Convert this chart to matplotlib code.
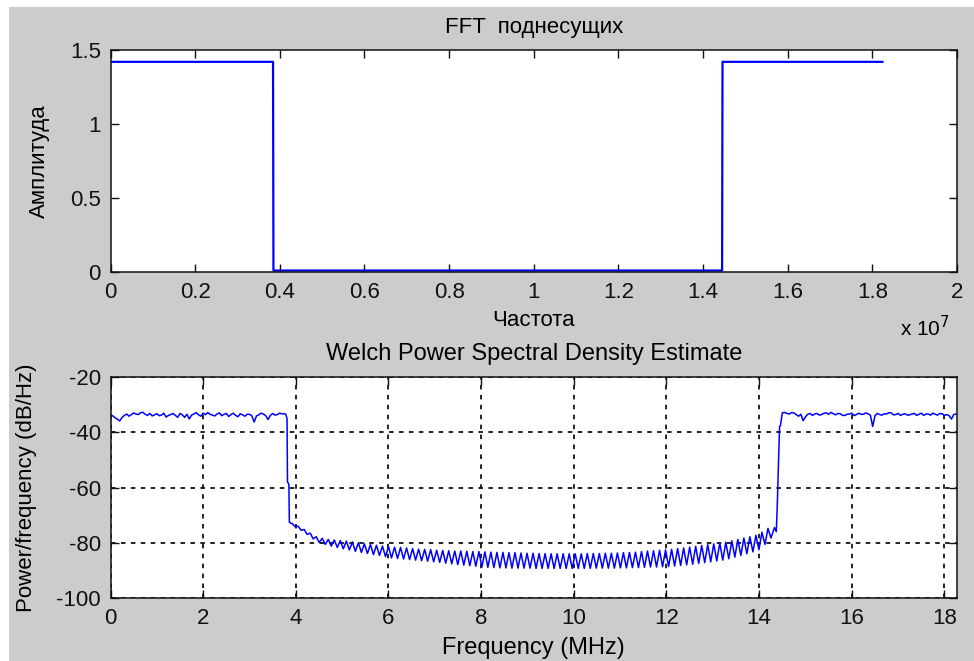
import numpy as np
import matplotlib
matplotlib.use('Agg')
import matplotlib.pyplot as plt
from matplotlib.patches import Rectangle

plt.rcParams['font.family'] = ['Liberation Sans', 'DejaVu Sans']
plt.rcParams['axes.unicode_minus'] = False

# --- data: top plot (FFT of subcarriers), frequency in Hz ---
fft_freq = [0, 3.84e6, 3.85e6, 14.45e6, 14.46e6, 18.24e6]
fft_amp = [1.42, 1.42, 0.01, 0.01, 1.42, 1.42]
fft_xticks = [0, 0.2e7, 0.4e7, 0.6e7, 0.8e7, 1.0e7, 1.2e7, 1.4e7, 1.6e7, 1.8e7, 2.0e7]
fft_xticklabels = ['0', '0.2', '0.4', '0.6', '0.8', '1', '1.2', '1.4', '1.6', '1.8', '2']
fft_yticks = [0, 0.5, 1, 1.5]
fft_yticklabels = ['0', '0.5', '1', '1.5']

# --- data: bottom plot (Welch PSD), frequency in MHz, values in dB/Hz ---
# left occupied band, 0 .. 3.7 MHz every 0.05 MHz
psd_left = [-33.5, -34.1, -34.8, -35.3, -35.9, -34.6, -33.9, -33.4, -34.2, -33.6,
            -33.0, -33.4, -33.6, -32.9, -32.8, -33.5, -33.9, -33.2, -34.1, -33.7,
            -33.3, -34.0, -33.8, -33.1, -34.5, -33.9, -33.6, -33.2, -33.9, -34.6,
            -33.2, -33.7, -34.6, -33.5, -35.2, -33.8, -33.4, -32.9, -33.7, -34.2,
            -33.1, -33.6, -32.9, -33.5, -33.8, -34.1, -33.4, -33.0, -34.0, -33.5,
            -33.2, -34.3, -33.6, -33.1, -33.9, -34.4, -33.3, -33.7, -34.2, -33.5,
            -33.5, -34.0, -36.3, -34.1, -33.7, -33.1, -33.4, -34.0, -35.4, -33.9,
            -33.2, -33.8, -33.6, -33.1, -33.3]
# falling edge
drop_freq = [3.78, 3.81, 3.82, 3.85, 3.86, 3.90]
drop_vals = [-33.4, -35.0, -58.0, -58.8, -72.6, -73.0]
# null band ripple: peaks start at 3.92 MHz, spaced 0.13 MHz, troughs halfway between
ripple_peaks = [-73.0, -74.0, -75.2, -76.5, -77.8, -78.4, -78.8, -79.0, -79.2, -79.4,
                -79.7, -80.0, -80.4, -80.6, -80.9, -81.2, -81.4, -81.6, -81.7, -81.9,
                -82.1, -82.3, -82.4, -82.5, -82.7, -82.8, -82.9, -83.0, -83.0, -83.1,
                -83.2, -83.2, -83.3, -83.4, -83.5, -83.5, -83.6, -83.6, -83.7, -83.8,
                -83.8, -83.9, -83.9, -84.0, -84.0, -84.0, -84.0, -84.0, -84.0, -83.9,
                -83.9, -83.9, -83.8, -83.8, -83.7, -83.6, -83.5, -83.4, -83.2, -83.0,
                -82.9, -82.7, -82.6, -82.4, -82.1, -81.9, -81.6, -81.3, -81.0, -80.7,
                -80.4, -80.1, -79.8, -79.3, -78.8, -78.3, -77.8, -77.3, -76.2, -74.8]
ripple_troughs = [-74.2, -75.5, -77.0, -78.6, -79.9, -80.6, -81.2, -81.7, -82.2, -82.6,
                  -83.1, -83.5, -83.9, -84.3, -84.6, -85.0, -85.5, -85.7, -85.9, -86.1,
                  -86.3, -86.5, -86.7, -86.9, -87.1, -87.4, -87.6, -87.9, -88.1, -88.3,
                  -88.5, -88.8, -88.9, -89.0, -89.1, -89.1, -89.2, -89.2, -89.2, -89.2,
                  -89.3, -89.3, -89.3, -89.3, -89.3, -89.3, -89.3, -89.3, -89.3, -89.3,
                  -89.2, -89.2, -89.2, -89.2, -89.1, -89.1, -89.0, -89.0, -88.9, -88.8,
                  -88.8, -88.7, -88.6, -88.4, -88.2, -88.0, -87.8, -87.5, -87.2, -86.9,
                  -86.6, -86.3, -85.8, -85.2, -84.6, -84.0, -83.3, -82.5, -80.6, -78.3]
# rising edge
rise_freq = [14.33, 14.37, 14.39, 14.44, 14.46, 14.50]
rise_vals = [-74.5, -76.0, -67.0, -38.0, -37.5, -33.0]
# right occupied band, 14.55 .. 18.25 MHz every 0.05 MHz
psd_right = [-32.8, -33.2, -33.4, -32.9, -33.0, -33.6, -34.2, -33.5, -35.8, -34.4,
             -33.5, -33.2, -33.9, -33.4, -33.2, -33.8, -33.6, -33.1, -33.0, -33.5,
             -32.8, -33.3, -33.7, -33.2, -33.3, -33.9, -33.9, -33.5, -33.4, -33.1,
             -34.0, -33.6, -33.1, -33.5, -33.5, -33.0, -33.3, -33.8, -37.9, -34.0,
             -33.2, -33.6, -33.8, -33.3, -33.4, -32.9, -33.0, -33.7, -33.6, -33.2,
             -33.9, -33.5, -33.3, -33.8, -33.7, -33.4, -33.2, -33.9, -33.5, -33.1,
             -33.9, -33.4, -33.4, -33.8, -33.1, -33.5, -33.8, -33.2, -33.3, -33.9,
             -33.6, -34.0, -35.2, -33.6, -33.4]
psd_xticks = [0, 2, 4, 6, 8, 10, 12, 14, 16, 18]
psd_yticks = [-100, -80, -60, -40, -20]

# assemble the psd curve
left_freq = np.linspace(0, 3.7, len(psd_left))
right_freq = np.linspace(14.55, 18.25, len(psd_right))
peak_freq = 3.92 + 0.13 * np.arange(len(ripple_peaks))
ripple_freq = np.column_stack([peak_freq, peak_freq + 0.065]).ravel()
ripple_vals = np.column_stack([ripple_peaks, ripple_troughs]).ravel()
psd_freq = np.concatenate([left_freq, drop_freq, ripple_freq, rise_freq, right_freq])
psd_vals = np.concatenate([psd_left, drop_vals, ripple_vals, rise_vals, psd_right])

fig = plt.figure(figsize=(9.74, 6.61), dpi=100, facecolor='white')
# gray MATLAB-like figure background
fig.patches.append(Rectangle((9 / 974, 0), 1, 1 - 7 / 661, transform=fig.transFigure,
                             facecolor='#cccccc', edgecolor='none', zorder=-10))

W, H = 974.0, 661.0
ax1 = fig.add_axes([110.5 / W, 1 - 272 / H, 846.5 / W, 222 / H])
ax2 = fig.add_axes([110.5 / W, 1 - 598 / H, 846.5 / W, 221 / H])

for ax in (ax1, ax2):
    ax.set_facecolor('white')
    ax.tick_params(direction='in', length=6, width=1, top=True, right=True,
                   labelsize=16, pad=7, colors='#111111')
    for s in ax.spines.values():
        s.set_color('#111111')
        s.set_linewidth(1.1)

# top: FFT of subcarriers
ax1.plot(fft_freq, fft_amp, color='#0000ff', lw=1.6)
ax1.set_xlim(0, 2e7)
ax1.set_ylim(0, 1.5)
ax1.set_xticks(fft_xticks)
ax1.set_xticklabels(fft_xticklabels)
ax1.set_yticks(fft_yticks)
ax1.set_yticklabels(fft_yticklabels)
ax1.set_title('FFT  поднесущих', fontsize=16, pad=12)
ax1.set_xlabel('Частота', fontsize=16)
ax1.set_ylabel('Амплитуда', fontsize=16)
ax1.xaxis.set_label_coords(0.5, -0.17)
ax1.yaxis.set_label_coords(-0.072, 0.5)
fig.text(925 / W, 1 - 328 / H, 'x 10$^7$', fontsize=15, ha='center', va='center')

# bottom: Welch PSD
ax2.plot(psd_freq, psd_vals, color='#0000ff', lw=1.1)
ax2.set_xlim(0, 18.27)
ax2.set_ylim(-100, -20)
ax2.set_xticks(psd_xticks)
ax2.set_yticks(psd_yticks)
ax2.grid(True, color='#111111', linestyle=(0, (2.5, 3)), linewidth=1.3)
ax2.set_title('Welch Power Spectral Density Estimate', fontsize=17, pad=12)
ax2.set_xlabel('Frequency (MHz)', fontsize=17)
ax2.set_ylabel('Power/frequency (dB/Hz)', fontsize=16)
ax2.xaxis.set_label_coords(0.5, -0.175)
ax2.yaxis.set_label_coords(-0.087, 0.5)

plt.savefig('out.png', dpi=100)
